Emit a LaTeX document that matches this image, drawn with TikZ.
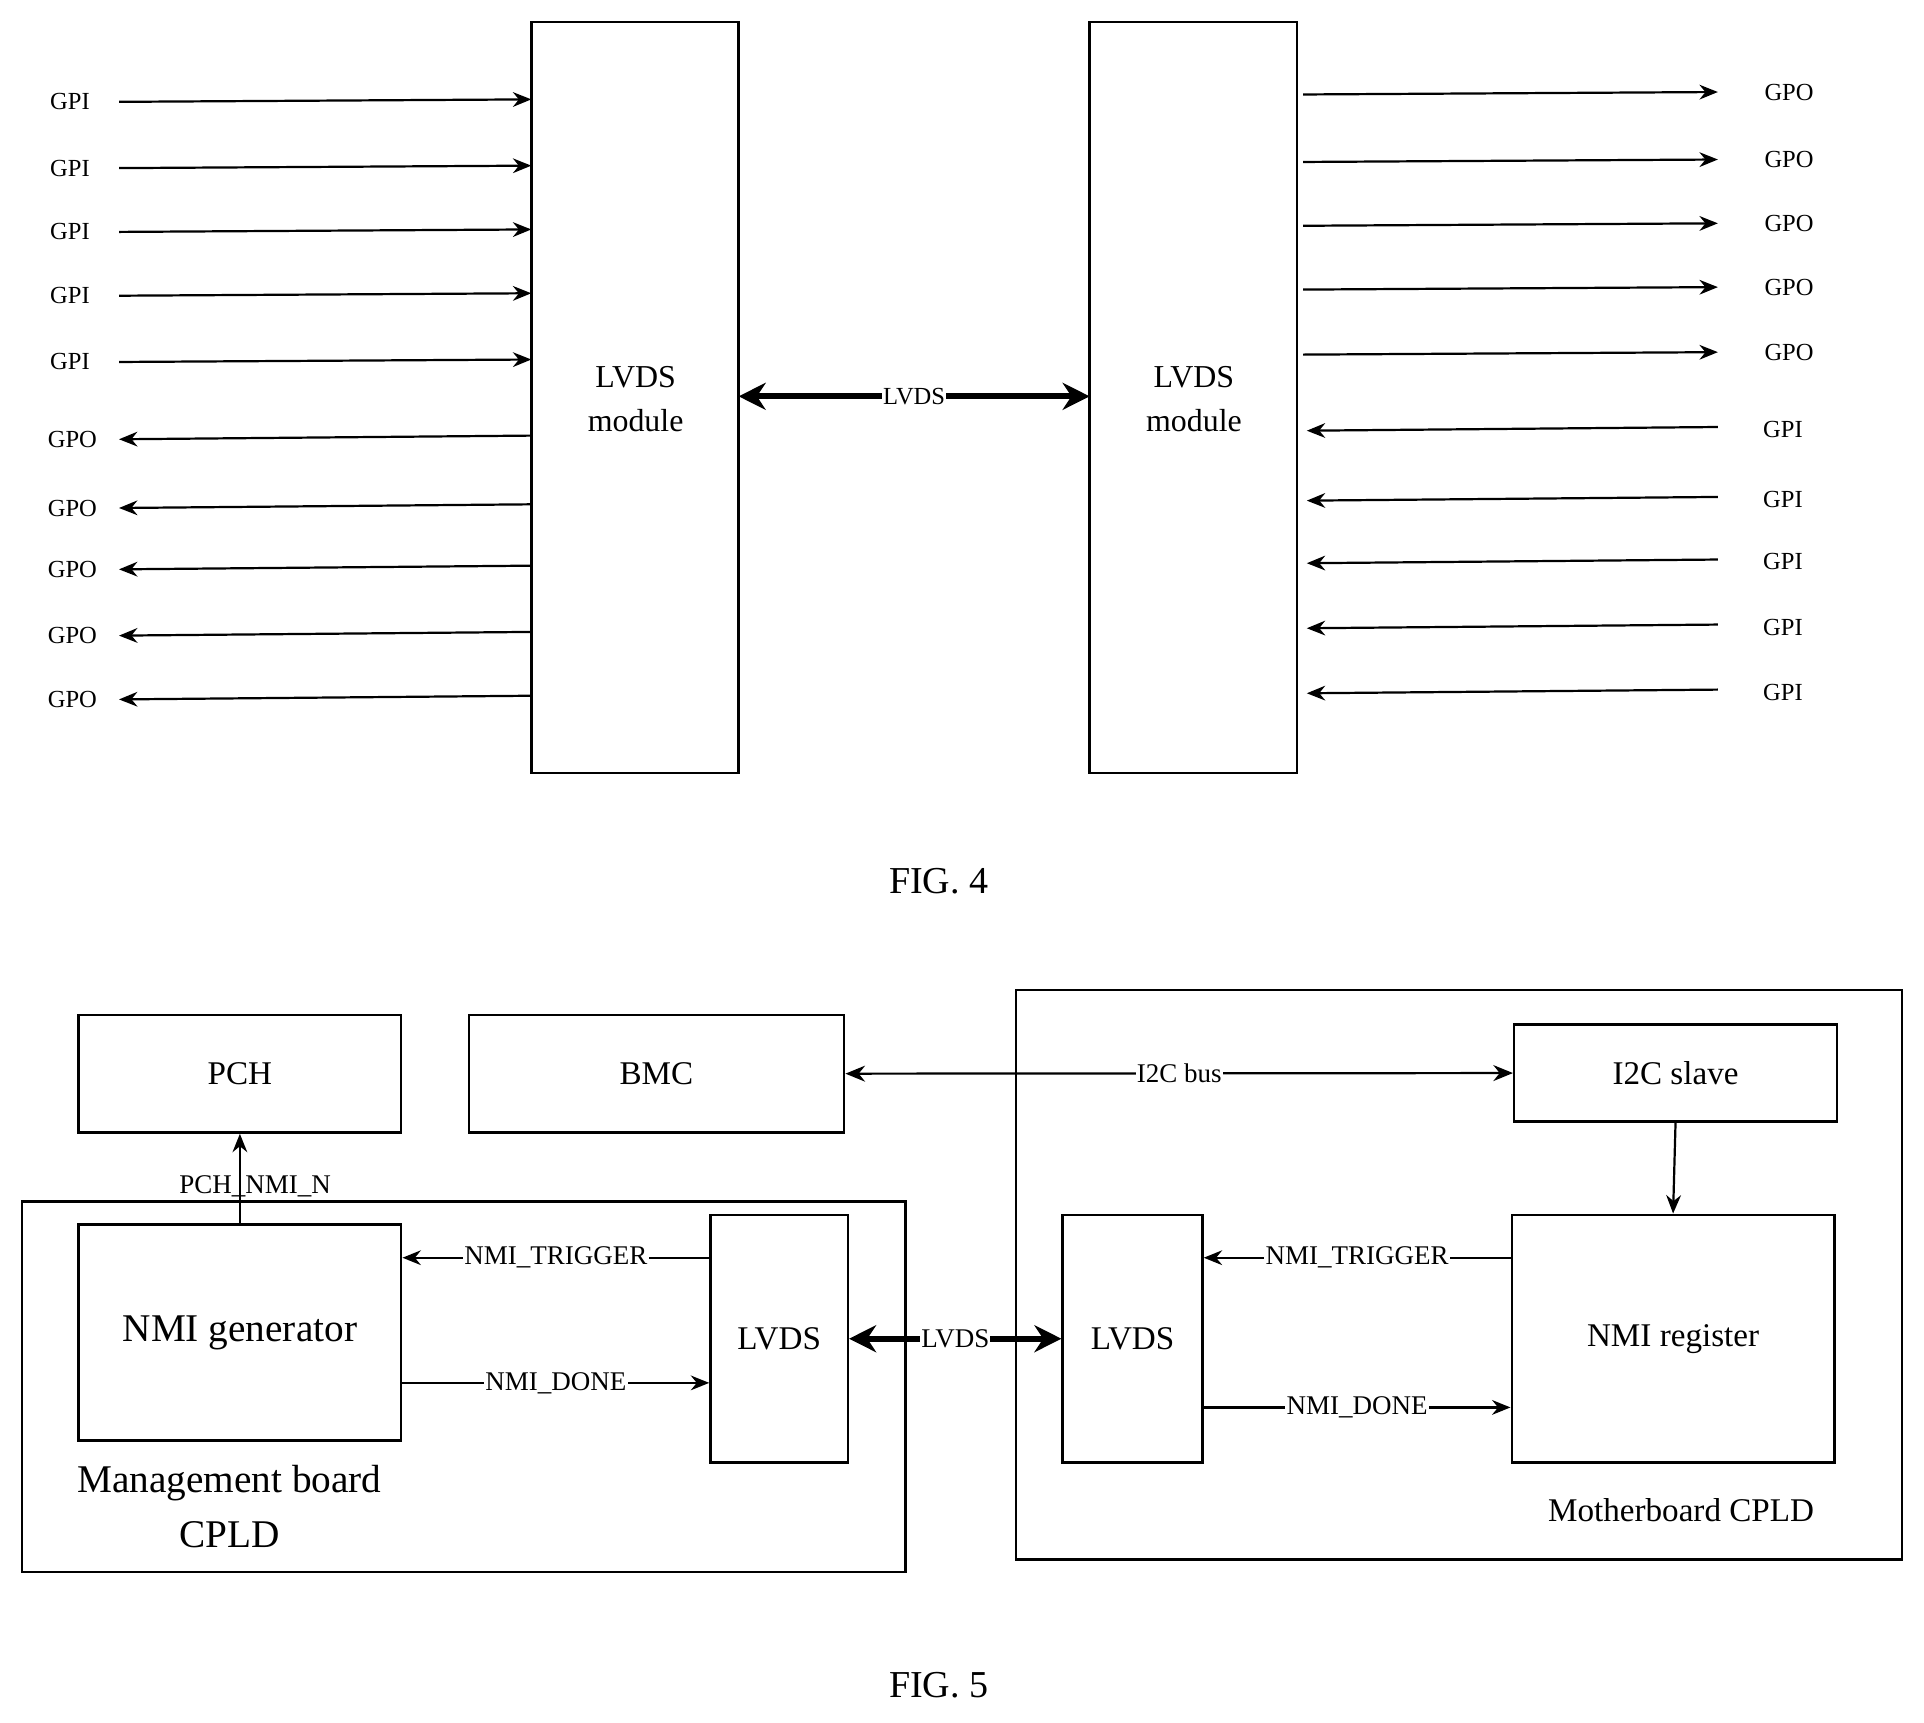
\documentclass[tikz,border=0pt]{standalone}
\usepackage{fontspec}
\setmainfont{Liberation Serif}
\usetikzlibrary{arrows.meta}
\begin{document}
\begin{tikzpicture}[x=1pt,y=-1pt,
  box/.style={draw,line width=2pt,inner sep=0},
  sig/.style={line width=1.8pt,-{Stealth[length=15pt,width=12pt]}},
  thick2/.style={line width=5pt,{Stealth[length=22pt,width=22pt]}-{Stealth[length=22pt,width=22pt]}},
  gp/.style={font=\fontsize{20}{24}\selectfont},
  lab/.style={fill=white,inner sep=1pt,font=\fontsize{22}{26}\selectfont}]
\useasboundingbox (0,0) rectangle (1568,1404);
% FIG 4
\draw[box] (433,18) rectangle (602,630);
\draw[box] (888,18) rectangle (1057,630);
\node[font=\fontsize{26}{36}\selectfont,align=center] (lm) at (518,325) {LVDS\\module};
\node[font=\fontsize{26}{36}\selectfont,align=center] (rm) at (973,325) {LVDS\\module};
\coordinate (la) at (602,323); \coordinate (ra) at (888,323);
\draw[thick2] (la) -- (ra) node[midway,lab,font=\fontsize{20}{24}\selectfont] {LVDS};
\foreach \y [count=\i] in {83,137,189,241,295}{
  \node[gp] (gpil\i) at (57,\y) {GPI};
  \coordinate (a\i) at (433,\y-2);
  \draw[sig] (97,\y) -- (a\i);}
\foreach \y [count=\i] in {358,414,464,518,570}{
  \node[gp] (gpol\i) at (59,\y) {GPO};
  \coordinate (b\i) at (433,\y-3);
  \draw[sig] (b\i) -- (97,\y);}
\foreach \y [count=\i] in {75,130,182,234,287}{
  \node[gp] (gpor\i) at (1458,\y) {GPO};
  \coordinate (c\i) at (1062,\y+2);
  \draw[sig] (c\i) -- (1400,\y);}
\foreach \y [count=\i] in {350,407,458,511,564}{
  \node[gp] (gpir\i) at (1453,\y) {GPI};
  \coordinate (d\i) at (1400,\y-2);
  \draw[sig] (d\i) -- (1065,\y+1);}
\node[font=\fontsize{31}{36}\selectfont] (f4) at (765,718) {FIG. 4};
% FIG 5
\draw[box] (18,979) rectangle (738,1281);
\draw[box] (828,807) rectangle (1550,1271);
\node[box,minimum width=263pt,minimum height=96pt,font=\fontsize{27}{32}\selectfont] (pch) at (195.5,875) {PCH};
\node[box,minimum width=306pt,minimum height=96pt,font=\fontsize{27}{32}\selectfont] (bmc) at (535,875) {BMC};
\node[box,minimum width=263pt,minimum height=176pt,font=\fontsize{32}{36}\selectfont] (gen) at (195.5,1086) {NMI generator};
\node[box,minimum width=112pt,minimum height=202pt,font=\fontsize{27}{32}\selectfont] (lv1) at (635,1091) {LVDS};
\node[box,minimum width=263pt,minimum height=79pt,font=\fontsize{27}{32}\selectfont] (i2c) at (1365.5,874.5) {I2C slave};
\node[box,minimum width=114pt,minimum height=202pt,font=\fontsize{27}{32}\selectfont] (lv2) at (923,1091) {LVDS};
\node[box,minimum width=263pt,minimum height=202pt,font=\fontsize{27}{32}\selectfont] (reg) at (1363.5,1091) {NMI register};
\draw[sig] (gen.north) -- (pch.south);
\node[font=\fontsize{22}{26}\selectfont] (pl) at (208,967) {PCH\_NMI\_N};
\draw[line width=1.8pt,{Stealth[length=16pt,width=13pt]}-{Stealth[length=16pt,width=13pt]}] (bmc.east) -- (i2c.west) node[lab,pos=0.5] {I2C bus};
\draw[sig] (i2c.south) -- (reg.north);
\draw[sig] (lv1.west|-0,1025) -- (gen.east|-0,1025) node[midway,lab] {NMI\_TRIGGER};
\draw[sig] (gen.east|-0,1127) -- (lv1.west|-0,1127) node[midway,lab] {NMI\_DONE};
\draw[thick2] (lv1.east) -- (lv2.west) node[midway,lab] {LVDS};
\draw[sig] (reg.west|-0,1025) -- (lv2.east|-0,1025) node[midway,lab] {NMI\_TRIGGER};
\draw[sig] (lv2.east|-0,1147) -- (reg.west|-0,1147) node[midway,lab] {NMI\_DONE};
\node[font=\fontsize{32}{45}\selectfont,align=center] (mb) at (187,1228) {Management board\\CPLD};
\node[font=\fontsize{27}{32}\selectfont] (mo) at (1370,1231) {Motherboard CPLD};
\node[font=\fontsize{31}{36}\selectfont] (f5) at (765,1373) {FIG. 5};
\end{tikzpicture}
\end{document}
